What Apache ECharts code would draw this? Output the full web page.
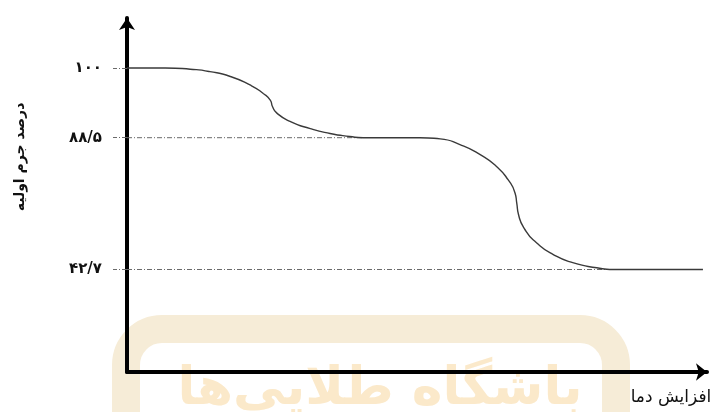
<!DOCTYPE html>
<html>
<head>
<meta charset="utf-8">
<script src="https://cdn.jsdelivr.net/npm/echarts@6/dist/echarts.min.js"></script>
<style>html,body{margin:0;padding:0;background:#fff}#c{width:714px;height:412px}</style>
</head>
<body>
<div id="c"></div>
<script>
// ---- data ----
const temps   = [0, 6.6, 10.9, 14.3, 17.8, 21.2, 23.5, 24.7, 25.1, 25.8, 28.1, 31.6, 35.0, 38.4, 40.7,
                 50.5, 54.0, 57.4, 60.9, 63.7, 65.7, 66.9, 67.2, 67.5, 68.6, 70.6, 73.5, 77.0, 81.0, 83.8, 99.3];
const massPct = [100, 100, 99.8, 99.4, 98.6, 97.2, 95.8, 94.7, 93.6, 92.6, 91.2, 90.0, 89.2, 88.7, 88.5,
                 88.5, 88.1, 86.1, 82.6, 78.5, 73.9, 69.3, 65.8, 61.8, 56.6, 52.0, 47.9, 45.0, 43.3, 42.7, 42.7];
const levels = [100, 88.5, 42.7];
const levelLabels = ['١٠٠', '٨٨/۵', '۴۲/٧'];
const yTitle = 'درصد جرم اولیه';
const xTitle = 'افزایش دما';
const watermark = 'باشگاه طلایی‌ها';

// ---- schematic (non-proportional) vertical scale of the drawing ----
const SCALE_MASS = [0, 42.7, 88.5, 100];
const SCALE_AXIS = [0, 102.5, 234.3, 304];
function toAxis(m) {
  for (let i = 1; i < SCALE_MASS.length; i++) {
    if (m <= SCALE_MASS[i]) {
      const t = (m - SCALE_MASS[i-1]) / (SCALE_MASS[i] - SCALE_MASS[i-1]);
      return SCALE_AXIS[i-1] + t * (SCALE_AXIS[i] - SCALE_AXIS[i-1]);
    }
  }
  return SCALE_AXIS[SCALE_AXIS.length-1];
}

const curve = temps.map((t, i) => [t, toAxis(massPct[i])]);
const levelPos = levels.map(toAxis);
// dashed guide lines run from the axis to where the curve first reaches each level
const guideSeries = levels.map((lv, k) => {
  const idx = massPct.findIndex(m => m <= lv);
  return {
    type: 'line', silent: true, symbol: 'none', z: 1,
    data: [[0, levelPos[k]], [temps[idx], levelPos[k]]],
    lineStyle: { color: '#6a6a6a', width: 1, type: [5, 2, 1, 2] }
  };
});

const FONT = 'DejaVu Sans, Noto Sans, sans-serif';
const chart = echarts.init(document.getElementById('c'), null, { renderer: 'canvas' });
chart.setOption({
  animation: false,
  backgroundColor: '#fff',
  grid: { left: 127, right: 7, top: 18, bottom: 40, containLabel: false },
  xAxis: {
    type: 'value', min: 0, max: 100,
    axisLine: { show: true, symbol: ['none', 'arrow'], symbolSize: [13, 11], lineStyle: { color: '#000', width: 4 } },
    axisTick: { show: false }, axisLabel: { show: false }, splitLine: { show: false }
  },
  yAxis: {
    type: 'value', min: 0, max: 354,
    axisLine: { show: true, symbol: ['none', 'arrow'], symbolSize: [12, 12], lineStyle: { color: '#000', width: 4 } },
    axisTick: { show: true, length: 14, customValues: levelPos, lineStyle: { color: '#6a6a6a', width: 1, type: [5, 2, 1, 2] } },
    axisLabel: {
      show: true, customValues: levelPos, margin: 25,
      fontFamily: FONT, fontSize: 15, fontWeight: 'bold', color: '#111',
      formatter: v => {
        let best = 0;
        levelPos.forEach((p, i) => { if (Math.abs(p - v) < Math.abs(levelPos[best] - v)) best = i; });
        return levelLabels[best];
      }
    },
    splitLine: { show: false }
  },
  graphic: [
    { type: 'rect', z: -10, silent: true,
      shape: { x: 126, y: 329, width: 490, height: 130, r: 36 },
      style: { fill: 'none', stroke: '#f6ecd7', lineWidth: 28 } },
    { type: 'text', z: -9, silent: true, x: 380, y: 416,
      style: { text: watermark, fill: '#fbe9ca', font: 'bold 52px ' + FONT, textAlign: 'center', textVerticalAlign: 'bottom' } },
    { type: 'text', x: 20, y: 157, rotation: Math.PI / 2,
      style: { text: yTitle, fill: '#111', font: 'bold 14px ' + FONT, textAlign: 'center', textVerticalAlign: 'middle' } },
    { type: 'text', x: 671, y: 398,
      style: { text: xTitle, fill: '#111', font: '17px ' + FONT, textAlign: 'center', textVerticalAlign: 'middle' } }
  ],
  series: [
    { type: 'line', data: curve, symbol: 'none', smooth: 0.6, z: 3,
      lineStyle: { color: '#3a3a3a', width: 1.4 } },
    ...guideSeries
  ]
});
</script>
</body>
</html>
